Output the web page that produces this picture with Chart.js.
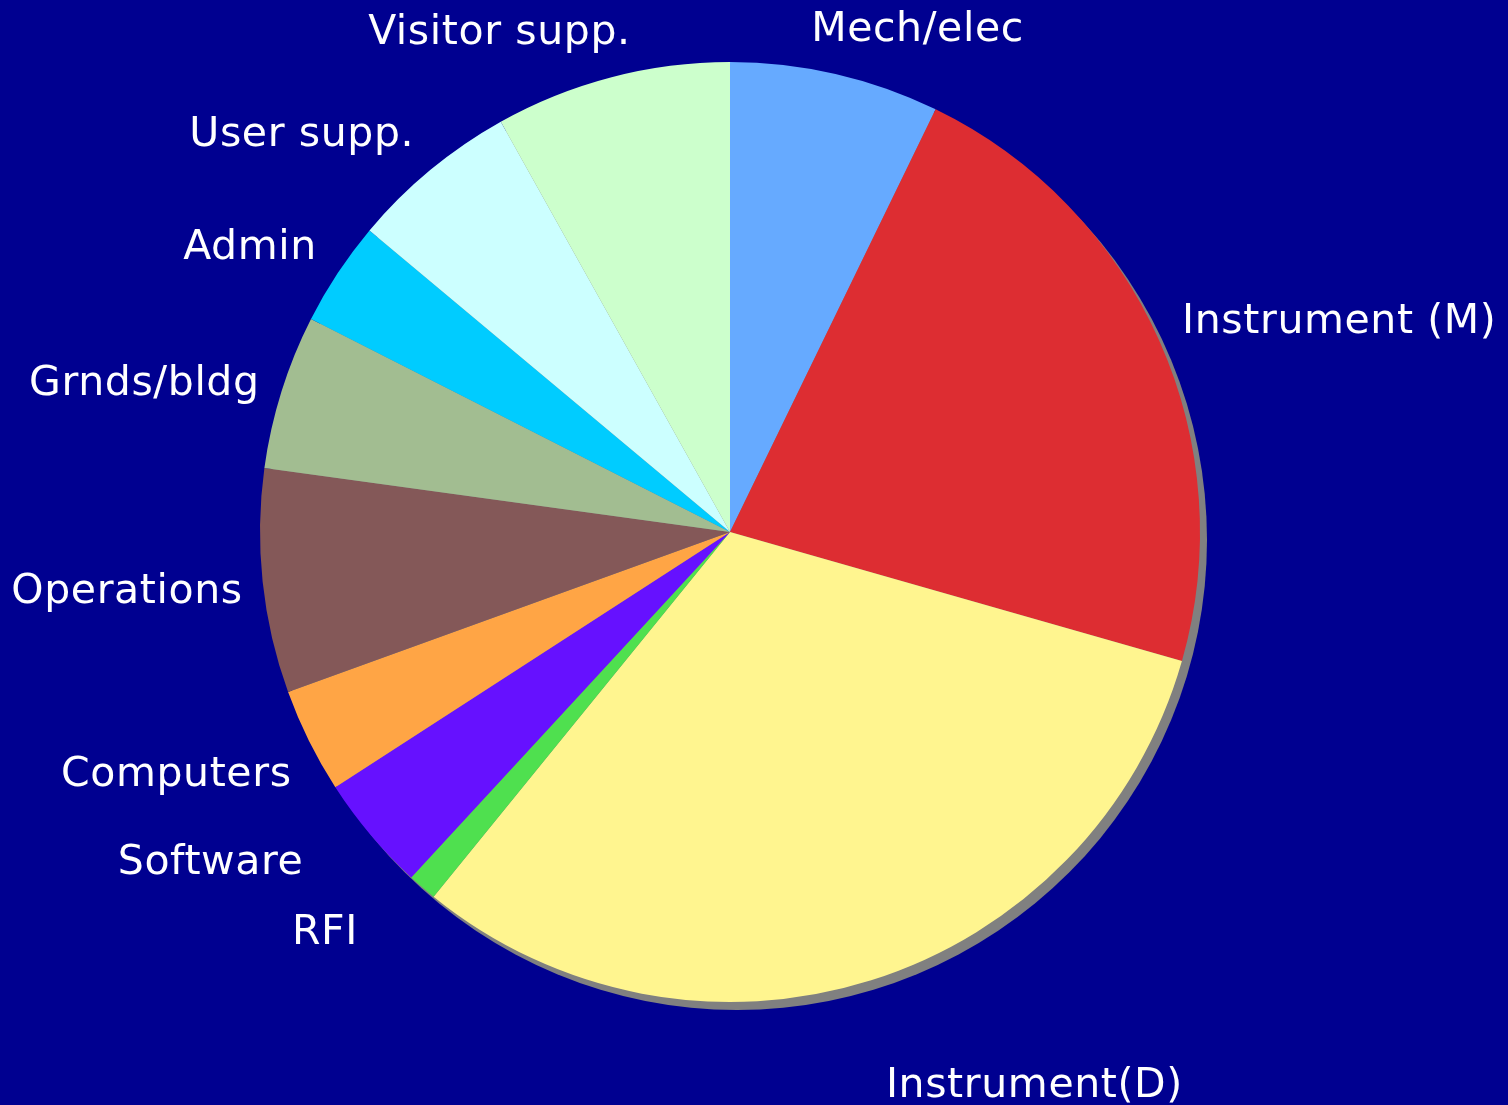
<!DOCTYPE html>
<html>
<head>
<meta charset="utf-8">
<script src="https://cdn.jsdelivr.net/npm/chart.js@4/dist/chart.umd.min.js"></script>
<style>
html,body{margin:0;padding:0;background:#000090;}
#wrap{width:1508px;height:1105px;position:relative;}
</style>
</head>
<body>
<div id="wrap"><canvas id="c" width="1508" height="1105"></canvas></div>
<script>
const categories = ["Mech/elec","Instrument (M)","Instrument(D)","RFI","Software","Computers","Operations","Grnds/bldg","Admin","User supp.","Visitor supp."];
const values = [7.2, 22.2, 31.4, 1.0, 4.0, 3.6, 7.7, 5.3, 3.6, 5.8, 8.1];
const colors = ["#66AAFF","#DD2D32","#FFF58F","#4FE04F","#6611FF","#FFA545","#845858","#A2BD91","#00CCFF","#CCFFFF","#CCFFCC"];
// layout only: extra nudge of each outside label (px) relative to the automatic placement
const labelNudgeX = [0, 0, 13, -48, -48, 5, 5, 2, 0, 0, 0];
const labelNudgeY = [0, 0, 63, 12, 0, 14, 6, 6, 0, 0, 0];

const bgPlugin = {
  id: 'bg',
  beforeDraw(chart) {
    const ctx = chart.ctx;
    ctx.save();
    ctx.fillStyle = '#000090';
    ctx.fillRect(0, 0, chart.width, chart.height);
    ctx.restore();
  }
};

const shadowPlugin = {
  id: 'shadow',
  beforeDatasetsDraw(chart) {
    const arc = chart.getDatasetMeta(0).data[0];
    if (!arc) return;
    const ctx = chart.ctx;
    ctx.save();
    ctx.fillStyle = '#808080';
    ctx.beginPath();
    ctx.arc(arc.x + 7, arc.y + 8, arc.outerRadius, 0, Math.PI * 2);
    ctx.fill();
    ctx.restore();
  }
};

const labelPlugin = {
  id: 'outLabels',
  afterDatasetsDraw(chart) {
    const ctx = chart.ctx;
    const meta = chart.getDatasetMeta(0);
    ctx.save();
    ctx.font = '41px "DejaVu Sans", Verdana, sans-serif';
    try { ctx.letterSpacing = '0.6px'; } catch (e) {}
    ctx.fillStyle = '#FFFFFF';
    ctx.textBaseline = 'middle';
    ctx.textAlign = 'left';
    const h = 40;
    meta.data.forEach((a, i) => {
      const mid = (a.startAngle + a.endAngle) / 2;
      const ux = Math.cos(mid), uy = Math.sin(mid);
      const r = a.outerRadius + 25;
      const px = a.x + ux * r, py = a.y + uy * r;
      const text = chart.data.labels[i];
      const w = ctx.measureText(text).width;
      const fx = Math.min(1, Math.max(0, 0.5 - 1.6 * ux));
      const fy = Math.min(1, Math.max(0, 0.5 - 0.5 * uy));
      const left = px - w * fx + labelNudgeX[i];
      const top = py - h * fy + labelNudgeY[i];
      ctx.fillText(text, left, top + h / 2);
    });
    ctx.restore();
  }
};

new Chart(document.getElementById('c'), {
  type: 'pie',
  data: {
    labels: categories,
    datasets: [{
      data: values,
      backgroundColor: colors,
      borderWidth: 0
    }]
  },
  options: {
    responsive: false,
    animation: false,
    rotation: 0,
    layout: { padding: { left: 260, right: 308, top: 62, bottom: 103 } },
    plugins: {
      legend: { display: false },
      tooltip: { enabled: false }
    }
  },
  plugins: [bgPlugin, shadowPlugin, labelPlugin]
});
</script>
</body>
</html>
